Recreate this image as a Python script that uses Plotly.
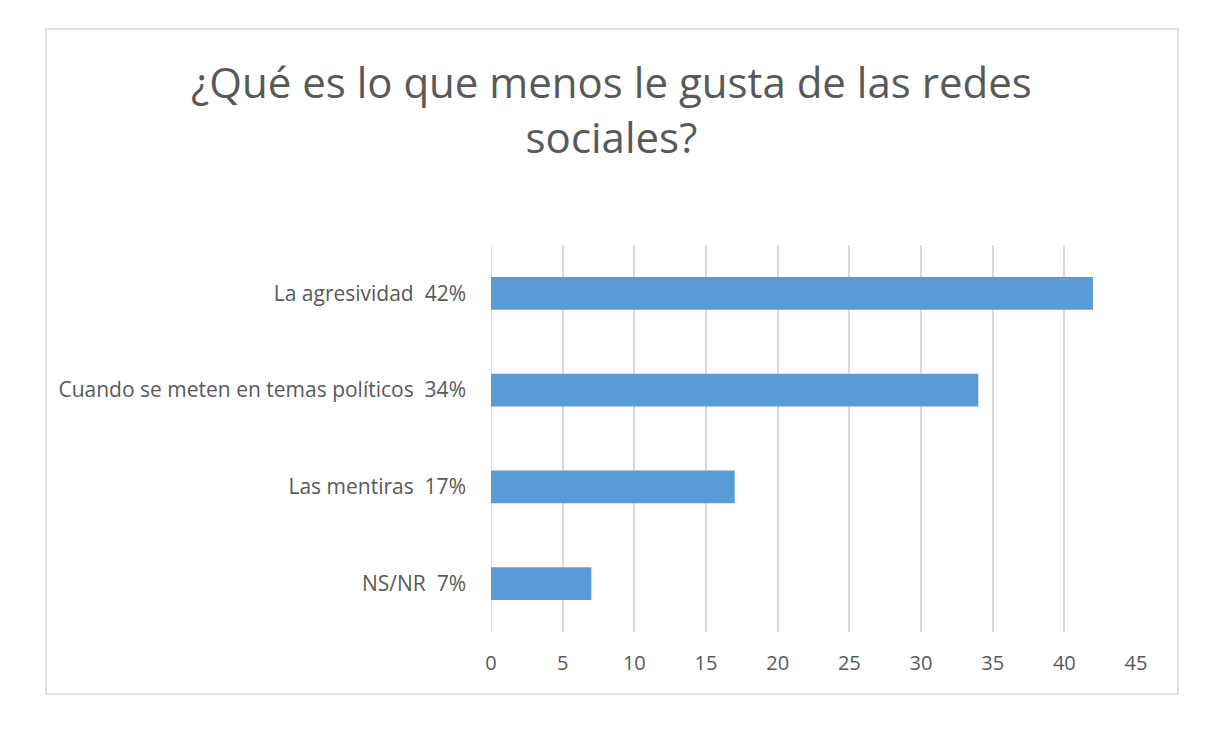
import plotly.graph_objects as go

categories = ["La agresividad\u00a0\u00a042%", "Cuando se meten en temas políticos\u00a0\u00a034%",
              "Las mentiras\u00a0\u00a017%", "NS/NR\u00a0\u00a07%"]
values = [42, 34, 17, 7]
x_ticks = [0, 5, 10, 15, 20, 25, 30, 35, 40, 45]
title_text = "¿Qué es lo que menos le gusta de las redes<br>sociales?"

FONT = "Open Sans, sans-serif"
GREY = "#595959"

fig = go.Figure(go.Bar(
    x=values, y=categories, orientation="h",
    marker=dict(color="#5b9bd5", line=dict(width=0)),
    width=0.34,
))

fig.update_layout(
    width=1224, height=732,
    margin=dict(l=483, r=96, t=237, b=108),
    paper_bgcolor="white", plot_bgcolor="white",
    showlegend=False,
    title=dict(text=title_text, x=0.493, xanchor="center", xref="container",
               y=0.877, yanchor="middle", yref="container",
               font=dict(family=FONT, size=42, color=GREY)),
    xaxis=dict(range=[0, 45], tickvals=x_ticks, showgrid=True, gridcolor="#d9d9d9",
               gridwidth=1.5, zeroline=False, showline=False, ticks="",
               tickfont=dict(family=FONT, size=20, color=GREY), ticklabelstandoff=17),
    yaxis=dict(categoryorder="array", categoryarray=categories[::-1], showgrid=False,
               zeroline=False, showline=False, ticks="",
               tickfont=dict(family=FONT, size=21, color=GREY), ticklabelstandoff=24),
    shapes=[dict(type="rect", xref="paper", yref="paper",
                 x0=-0.690, x1=1.065, y0=-0.160, y1=1.558,
                 line=dict(color="#d9d9d9", width=1.5), fillcolor="rgba(0,0,0,0)", layer="below")],
)
fig.add_shape(type="line", xref="x", yref="paper", x0=0, x1=0, y0=0, y1=1,
              line=dict(color="#d9d9d9", width=1.5), layer="below")

fig.write_html("out.html")
